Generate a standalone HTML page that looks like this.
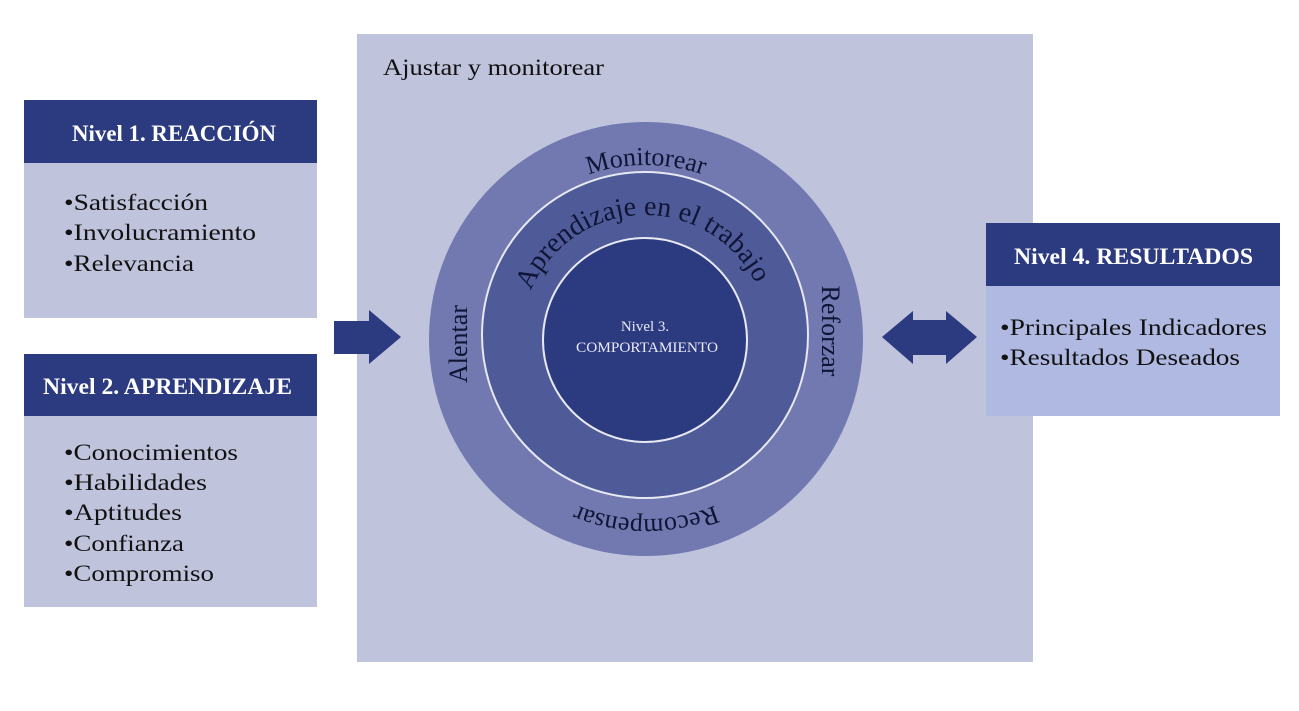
<!DOCTYPE html>
<html><head><meta charset="utf-8"><style>
html,body{margin:0;padding:0;background:#fff;}
svg{display:block;}
text{font-family:"Liberation Serif",serif;}
</style></head><body>
<svg width="1299" height="711" viewBox="0 0 1299 711" xmlns="http://www.w3.org/2000/svg">
<rect x="0" y="0" width="1299" height="711" fill="#ffffff"/>
<rect x="357" y="34" width="676" height="628" fill="#bfc3dc"/>
<text x="383" y="75" font-size="23" fill="#111" textLength="221" lengthAdjust="spacingAndGlyphs">Ajustar y monitorear</text>

<rect x="24" y="100" width="293" height="63" fill="#2c3a80"/>
<rect x="24" y="163" width="293" height="155" fill="#bfc3dc"/>
<text x="72" y="141" font-size="23" font-weight="bold" fill="#fff" textLength="204" lengthAdjust="spacingAndGlyphs">Nivel 1. REACCIÓN</text>
<g font-size="23" fill="#111">
<text x="64" y="210" textLength="144" lengthAdjust="spacingAndGlyphs">•Satisfacción</text>
<text x="64" y="240" textLength="192" lengthAdjust="spacingAndGlyphs">•Involucramiento</text>
<text x="64" y="271" textLength="130" lengthAdjust="spacingAndGlyphs">•Relevancia</text>
</g>

<rect x="24" y="354" width="293" height="62" fill="#2c3a80"/>
<rect x="24" y="416" width="293" height="191" fill="#bfc3dc"/>
<text x="43" y="394" font-size="23" font-weight="bold" fill="#fff" textLength="249" lengthAdjust="spacingAndGlyphs">Nivel 2.  APRENDIZAJE</text>
<g font-size="23" fill="#111">
<text x="64" y="460" textLength="174" lengthAdjust="spacingAndGlyphs">•Conocimientos</text>
<text x="64" y="490" textLength="143" lengthAdjust="spacingAndGlyphs">•Habilidades</text>
<text x="64" y="520" textLength="118" lengthAdjust="spacingAndGlyphs">•Aptitudes</text>
<text x="64" y="551" textLength="120" lengthAdjust="spacingAndGlyphs">•Confianza</text>
<text x="64" y="581" textLength="150" lengthAdjust="spacingAndGlyphs">•Compromiso</text>
</g>

<rect x="986" y="223" width="294" height="63" fill="#2c3a80"/>
<rect x="986" y="286" width="294" height="130" fill="#b0b9e1"/>
<text x="1014" y="264" font-size="23" font-weight="bold" fill="#fff" textLength="239" lengthAdjust="spacingAndGlyphs">Nivel 4. RESULTADOS</text>
<g font-size="23" fill="#111">
<text x="1000" y="335" textLength="267" lengthAdjust="spacingAndGlyphs">•Principales Indicadores</text>
<text x="1000" y="365" textLength="240" lengthAdjust="spacingAndGlyphs">•Resultados Deseados</text>
</g>

<polygon points="334,321 369,321 369,310 401,337 369,364 369,354 334,354" fill="#2c3a80"/>
<polygon points="882,337 913,311 913,320 946,320 946,311 977,337 946,364 946,355 913,355 913,364" fill="#2c3a80"/>

<circle cx="646" cy="339" r="217" fill="#7279b0"/>
<circle cx="645" cy="335" r="163" fill="#4f5a99" stroke="#e6e8f2" stroke-width="2"/>
<circle cx="645" cy="340" r="102" fill="#2c3a80" stroke="#e6e8f2" stroke-width="2"/>
<text x="645" y="331" font-size="15" fill="#e8eaf5" text-anchor="middle">Nivel 3.</text>
<text x="647" y="352" font-size="15" fill="#e8eaf5" text-anchor="middle" textLength="142" lengthAdjust="spacingAndGlyphs">COMPORTAMIENTO</text>

<defs>
<path id="c180" d="M 466,339 A 180,180 0 1 1 826,339 A 180,180 0 1 1 466,339"/>
<path id="c174" d="M 472,339 A 174,174 0 1 1 820,339 A 174,174 0 1 1 472,339"/>
<path id="c124" d="M 521,339 A 124,124 0 1 1 769,339 A 124,124 0 1 1 521,339"/>
</defs>
<text font-size="26" fill="#0f1535"><textPath href="#c174" startOffset="25%" text-anchor="middle">Monitorear</textPath></text>
<text font-size="26" fill="#0f1535"><textPath href="#c180" startOffset="75%" text-anchor="middle">Recompensar</textPath></text>
<text font-size="28" fill="#0f1535"><textPath href="#c124" startOffset="24.5%" text-anchor="middle">Aprendizaje en el trabajo</textPath></text>
<text x="467" y="344" font-size="26" fill="#0f1535" text-anchor="middle" transform="rotate(-90 467 344)">Alentar</text>
<text x="822" y="331" font-size="26" fill="#0f1535" text-anchor="middle" transform="rotate(90 822 331)">Reforzar</text>
</svg>
</body></html>
